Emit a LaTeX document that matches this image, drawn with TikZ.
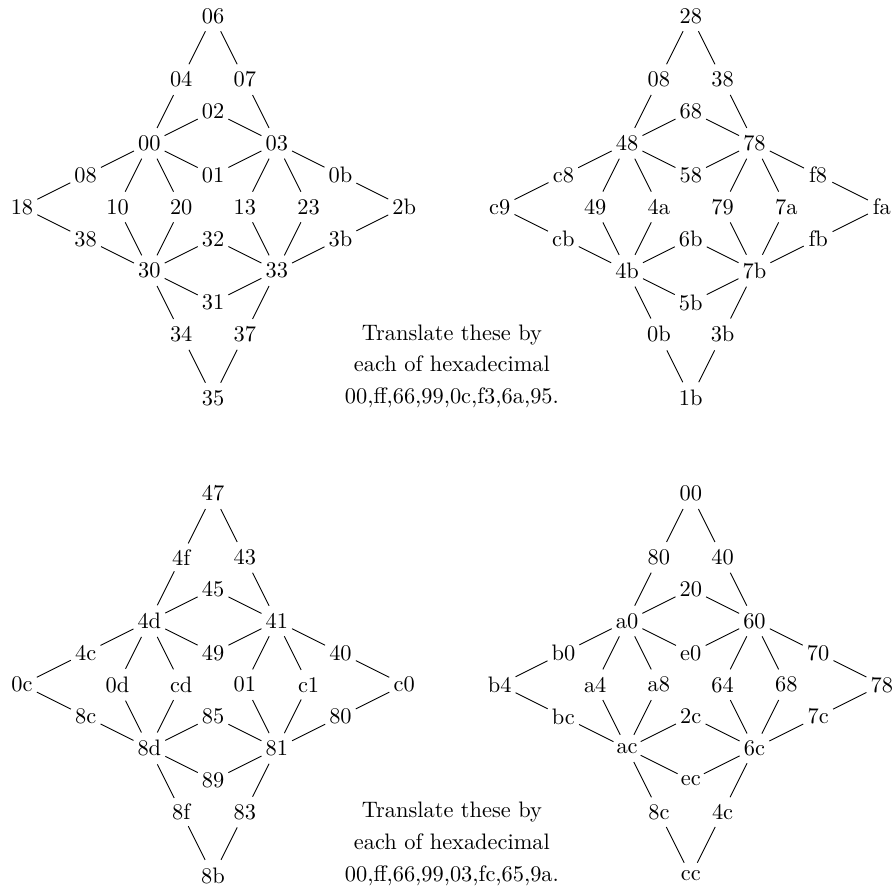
\documentclass[tikz,border=0pt]{standalone}
\usetikzlibrary{positioning}

% one diamond-shaped net; #1 name prefix, #2 shift, #3 the 24 labels
\newcommand{\hexnet}[3]{%
    \begin{scope}[shift={#2}, name prefix=#1-]
        \foreach \nm/\px/\py [count=\i from 0] in {top/0/6, ul/-1/4, ur/1/4, mt/0/3,
            hl/-2/2, hr/2/2, ol/-4/1, mu/0/1, or/4/1, el/-6/0, va/-3/0, vb/-1/0,
            vc/1/0, vd/3/0, er/6/0, pl/-4/-1, md/0/-1, pr/4/-1, bl/-2/-2, br/2/-2,
            mb/0/-3, dl/-1/-4, dr/1/-4, bot/0/-6} {
            \pgfmathsetmacro{\lbl}{{#3}[\i]}
            \node (\nm) at (\px,\py) [hex] {\lbl};
        }
        \foreach \a/\b in {top/ul, top/ur, ul/hl, ur/hr, hl/mt, mt/hr, hl/mu, mu/hr,
            hl/ol, ol/el, el/pl, pl/bl, hl/va, va/bl, hl/vb, vb/bl,
            hr/vc, vc/br, hr/vd, vd/br, hr/or, or/er, er/pr, pr/br,
            bl/md, md/br, bl/mb, mb/br, bl/dl, dl/bot, br/dr, dr/bot}
            \draw (\a) -- (\b);
    \end{scope}}

\begin{document}
\begin{tikzpicture}[x=0.5cm, y=0.5cm]
    \tikzstyle{hex} = [circle, inner sep=1pt]
    \tikzstyle{note} = [align=center, font=\setlength{\baselineskip}{0.5cm}]
    \useasboundingbox (-6.69,-21.38) rectangle (21.35,6.5);

    \hexnet{tl}{(0,0)}{"06","04","07","02","00","03","08","01","0b","18","10","20",
        "13","23","2b","38","32","3b","30","33","31","34","37","35"}
    \hexnet{tr}{(15,0)}{"28","08","38","68","48","78","c8","58","f8","c9","49","4a",
        "79","7a","fa","cb","6b","fb","4b","7b","5b","0b","3b","1b"}
    \hexnet{bl}{(0,-15)}{"47","4f","43","45","4d","41","4c","49","40","0c","0d","cd",
        "01","c1","c0","8c","85","80","8d","81","89","8f","83","8b"}
    \hexnet{br}{(15,-15)}{"00","80","40","20","a0","60","b0","e0","70","b4","a4","a8",
        "64","68","78","bc","2c","7c","ac","6c","ec","8c","4c","cc"}

    \node (shiftA) at (7.5,-5) [note] {Translate these by\\each of hexadecimal\\00,ff,66,99,0c,f3,6a,95.};
    \node (shiftB) at (7.5,-20) [note] {Translate these by\\each of hexadecimal\\00,ff,66,99,03,fc,65,9a.};
\end{tikzpicture}
\end{document}
